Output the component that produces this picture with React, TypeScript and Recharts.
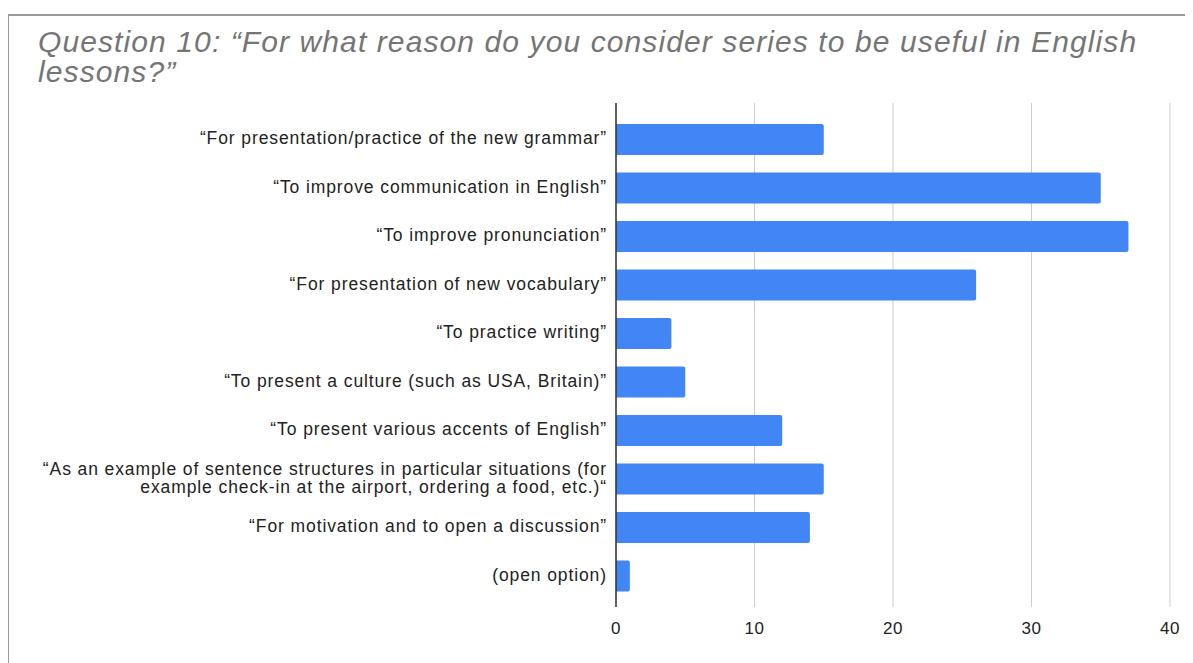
import React from "react";
import { BarChart, Bar, XAxis, YAxis, CartesianGrid } from "recharts";

const categories = [
  "“For presentation/practice of the new grammar”",
  "“To improve communication in English”",
  "“To improve pronunciation”",
  "“For presentation of new vocabulary”",
  "“To practice writing”",
  "“To present a culture (such as USA, Britain)”",
  "“To present various accents of English”",
  "“As an example of sentence structures in particular situations (for\nexample check-in at the airport, ordering a food, etc.)“",
  "“For motivation and to open a discussion”",
  "(open option)",
];
const answers = [15, 35, 37, 26, 4, 5, 12, 15, 14, 1];
const xTicks = [0, 10, 20, 30, 40];

const data = categories.map((name, i) => ({ name, count: answers[i] }));

const FONT = "'Liberation Sans', Arial, sans-serif";

function CategoryTick(props: any) {
  const { x, y, payload } = props;
  const lines = String(payload.value).split("\n");
  const lh = 18;
  const start = -((lines.length - 1) * lh) / 2;
  return (
    <text
      x={x - 1}
      y={y}
      textAnchor="end"
      fill="#222"
      fontSize={17.5}
      letterSpacing={0.9}
      fontFamily={FONT}
    >
      {lines.map((l, i) => (
        <tspan key={i} x={x - 1} dy={i === 0 ? start + 5 : lh}>
          {l}
        </tspan>
      ))}
    </text>
  );
}

export default function App() {
  return (
    <div style={{ position: "relative", width: 1185, height: 655, background: "#fff" }}>
      <div
        style={{
          position: "absolute",
          left: -1,
          top: 6,
          width: 1190,
          height: 660,
          borderTop: "2px solid #999",
          borderLeft: "2px solid #999",
        }}
      />
      <div
        style={{
          position: "absolute",
          left: 30,
          top: 19,
          fontFamily: FONT,
          fontStyle: "italic",
          fontSize: 30,
          lineHeight: "30px",
          letterSpacing: 1.1,
          color: "#757575",
          width: 1150,
          whiteSpace: "nowrap",
        }}
      >
        Question 10: “For what reason do you consider series to be useful in English
        <br />
        lessons?”
      </div>
      <div style={{ position: "absolute", left: 0, top: 0 }}>
        <BarChart
          width={1185}
          height={655}
          data={data}
          layout="vertical"
          margin={{ top: 95, right: 23, bottom: 26, left: 0 }}
          barCategoryGap={9}
        >
          <CartesianGrid horizontal={false} stroke="#ccc" />
          <XAxis
            type="number"
            domain={[0, 40]}
            ticks={xTicks}
            axisLine={false}
            tickLine={false}
            height={30}
            tick={{ fill: "#222", fontSize: 17, fontFamily: FONT, letterSpacing: 0.6 }}
            tickMargin={9}
          />
          <YAxis
            type="category"
            dataKey="name"
            width={608}
            axisLine={{ stroke: "#333", strokeWidth: 1.5 }}
            tickLine={false}
            tick={<CategoryTick />}
            interval={0}
            padding={{ top: 12, bottom: 7 }}
          />
          <Bar dataKey="count" fill="#4285f4" barSize={31} radius={[0, 2, 2, 0]} isAnimationActive={false} />
        </BarChart>
      </div>
    </div>
  );
}
